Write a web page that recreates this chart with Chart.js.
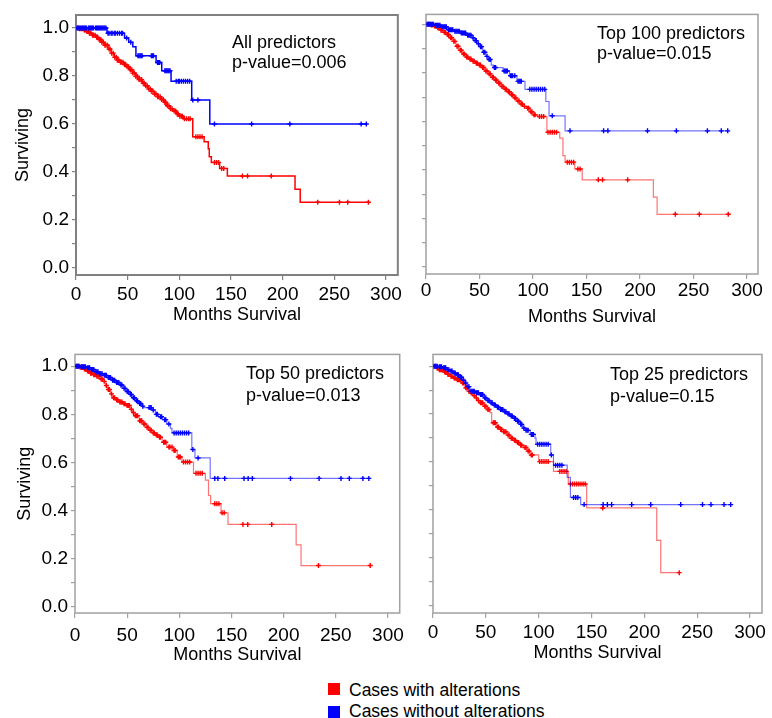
<!DOCTYPE html>
<html>
<head>
<meta charset="utf-8">
<script src="https://cdn.jsdelivr.net/npm/chart.js@4.4.0/dist/chart.umd.min.js"></script>
<style>
  body { margin: 0; background: #fff; font-family: "Liberation Sans", Arial, sans-serif; }
  #fig { position: relative; width: 772px; height: 718px; overflow: hidden; }
  .panel { position: absolute; }
  .panel canvas { display: block; }
  .note { position: absolute; font-size: 18px; color: #000; white-space: nowrap; }
  .key { position: absolute; left: 349px; font-size: 17.5px; line-height: 20px; color: #000; white-space: nowrap; }
  .sw { position: absolute; left: 328px; width: 12px; height: 12px; }
</style>
</head>
<body>
<div id="fig">
  <div class="panel" style="left:0;top:0"><canvas id="p1" width="405" height="335"></canvas></div>
  <div class="panel" style="left:405px;top:0"><canvas id="p2" width="367" height="335"></canvas></div>
  <div class="panel" style="left:0;top:340px"><canvas id="p3" width="410" height="335"></canvas></div>
  <div class="panel" style="left:410px;top:340px"><canvas id="p4" width="362" height="335"></canvas></div>

  <div class="note" style="left:232px;top:32px;line-height:20px">All predictors<br>p-value=0.006</div>
  <div class="note" style="left:597px;top:23px;line-height:20px">Top 100 predictors<br>p-value=0.015</div>
  <div class="note" style="left:246px;top:363px;line-height:21.7px">Top 50 predictors<br>p-value=0.013</div>
  <div class="note" style="left:610px;top:364px;line-height:21.6px">Top 25 predictors<br>p-value=0.15</div>

  <div class="sw" style="top:683px;background:#ff0000"></div>
  <div class="key" style="top:680px">Cases with alterations</div>
  <div class="sw" style="top:706px;background:#0000ff"></div>
  <div class="key" style="top:701px">Cases without alterations</div>
</div>

<script>
// --- All predictors ---
const p1RedTime = [3, 7, 10, 13, 16, 19, 22, 25, 28, 31, 34, 37, 40, 43, 46, 49, 52, 55, 58, 61, 64, 67, 70, 73, 76, 79, 82, 85, 88, 91, 94, 97, 100, 104, 113, 124, 128, 129, 131, 139, 146.5, 212, 217];
const p1RedSurv = [0.997, 0.992, 0.985, 0.978, 0.970, 0.961, 0.952, 0.940, 0.928, 0.912, 0.895, 0.878, 0.866, 0.857, 0.848, 0.838, 0.826, 0.812, 0.798, 0.785, 0.771, 0.759, 0.746, 0.736, 0.725, 0.714, 0.702, 0.690, 0.676, 0.664, 0.654, 0.642, 0.632, 0.622, 0.547, 0.526, 0.497, 0.464, 0.440, 0.415, 0.383, 0.328, 0.274];
const p1RedCens = [2, 3.5, 5, 6.5, 8, 9, 10.5, 12, 13, 14.5, 16, 17, 18.5, 20, 21, 22.5, 24, 25, 26.5, 28, 29, 30.5, 32, 33, 34.5, 36, 37.5, 39, 40, 41.5, 43, 44, 45.5, 47, 48, 49.5, 51, 52.5, 54, 55, 56.5, 58, 59.5, 61, 62, 63.5, 65, 66, 67.5, 69, 70.5, 72, 73, 74.5, 76, 77.5, 79, 80, 81.5, 83, 84.5, 86, 87, 88.5, 90, 91.5, 93, 95, 96.5, 98, 99, 100.5, 102, 103, 105, 107, 109, 110.5, 116, 118, 120, 122, 134, 136, 138, 141, 143, 161, 166, 189, 234, 255, 263, 283];
const p1BlueTime = [30, 47, 51, 55, 58, 77.5, 83, 92, 112, 129.5];
const p1BlueSurv = [0.978, 0.958, 0.940, 0.922, 0.884, 0.856, 0.822, 0.778, 0.700, 0.600];
const p1BlueCens = [1, 2, 3, 4, 5, 6, 7, 8, 9, 10, 12, 13, 14, 15, 16, 17, 19, 20, 21, 22, 23, 24, 25, 26, 27, 28, 29, 31, 32, 34, 35, 37, 38, 40, 42, 44, 45, 49, 53, 60, 61, 62, 63, 64, 73, 74, 75, 79, 80, 81, 86, 87, 88, 89, 90, 91, 97, 99, 100, 102, 104, 106, 108, 110, 113, 118, 134, 170, 207, 276, 281];

// --- Top 100 predictors ---
const p2RedTime = [4, 7, 10, 13, 16, 19, 22, 25, 28, 31, 34, 37, 40, 43, 46, 49, 52, 55, 58, 61, 64, 67, 70, 73, 76, 79, 82, 85, 88, 91, 94, 97, 100, 104, 113, 125, 128, 130, 139, 146, 212.5, 216];
const p2RedSurv = [0.997, 0.993, 0.986, 0.976, 0.967, 0.958, 0.945, 0.930, 0.910, 0.893, 0.878, 0.865, 0.857, 0.848, 0.840, 0.832, 0.822, 0.808, 0.796, 0.782, 0.770, 0.757, 0.744, 0.733, 0.722, 0.710, 0.697, 0.684, 0.672, 0.662, 0.654, 0.640, 0.627, 0.620, 0.555, 0.531, 0.459, 0.432, 0.404, 0.359, 0.288, 0.217];
const p2RedCens = [2, 3, 5, 6, 8, 9, 11, 12, 14, 15, 17, 18, 20, 21, 23, 24, 26, 27, 29, 30, 32, 33, 35, 36, 38, 39, 41, 42, 44, 45, 47, 48, 50, 51, 53, 54, 56, 57, 59, 60, 62, 63, 65, 66, 68, 69, 71, 72, 74, 75, 77, 78, 80, 81, 83, 84, 86, 87, 89, 90, 92, 95, 96, 98, 99, 101, 102, 106, 108, 110, 114, 116, 118, 120, 122, 132, 134, 136, 138, 142, 144, 161, 165, 188.5, 233, 255.5, 282.5];
const p2BlueTime = [8, 14, 20, 26, 32, 38, 43, 45, 48, 50, 53, 56, 58, 61, 63, 72, 78, 85, 92.5, 112, 115, 130];
const p2BlueSurv = [0.996, 0.990, 0.978, 0.972, 0.964, 0.955, 0.945, 0.933, 0.920, 0.908, 0.885, 0.868, 0.855, 0.832, 0.822, 0.808, 0.788, 0.765, 0.732, 0.682, 0.623, 0.561];
const p2BlueCens = [1, 2, 3, 4, 5, 6, 7, 9, 10, 11, 12, 13, 15, 16, 17, 18, 19, 21, 22, 23, 24, 25, 27, 28, 29, 30, 31, 33, 34, 35, 36, 37, 39, 40, 41, 42, 44, 46, 47, 49, 51, 52, 54, 55, 57, 59, 60, 64, 65, 73, 74, 75, 76, 79, 80, 81, 83, 86, 87, 88, 89, 97, 99, 101, 103, 105, 107, 109, 111, 118, 134.6, 166, 170, 207, 234, 263, 276, 282];

// --- Top 50 predictors ---
const p3RedTime = [4, 8, 11, 14, 17, 20.5, 24, 27, 29.5, 31.5, 34, 36, 39, 42.6, 46, 49, 53.6, 55, 57, 61.5, 65, 68, 71, 74, 77, 80.4, 83.6, 88, 94.6, 98, 102.5, 113.6, 125, 128, 130, 140, 146.7, 212, 216.7];
const p3RedSurv = [0.996, 0.988, 0.980, 0.971, 0.965, 0.958, 0.947, 0.937, 0.920, 0.903, 0.885, 0.869, 0.860, 0.851, 0.844, 0.837, 0.821, 0.808, 0.794, 0.773, 0.760, 0.746, 0.734, 0.723, 0.714, 0.705, 0.684, 0.664, 0.650, 0.623, 0.602, 0.555, 0.527, 0.463, 0.429, 0.391, 0.343, 0.258, 0.172];
const p3RedCens = [2, 3, 5, 6, 7, 9, 10, 12, 13, 15, 16, 18, 19, 21, 22, 23, 25, 26, 28, 30, 32, 33, 35, 37, 38, 40, 41, 43, 44, 45, 47, 48, 50, 51, 52, 54, 56, 58, 59, 60, 62, 63, 64, 66, 67, 69, 70, 72, 73, 75, 76, 78, 79, 81, 82, 85, 86, 87, 90, 91, 93, 95, 96, 99, 100, 101, 104, 106, 108, 110, 116, 118, 120, 122, 134, 136, 138, 141, 143, 161, 165.6, 188.6, 233.4, 283];
const p3BlueTime = [5, 11, 15, 19, 23, 27, 31, 35, 39, 43, 46, 49, 52, 55, 58, 61, 64, 66, 74, 77, 80, 84, 88, 91.5, 93, 112, 115, 129.6];
const p3BlueSurv = [0.998, 0.994, 0.986, 0.977, 0.969, 0.962, 0.953, 0.942, 0.932, 0.922, 0.908, 0.895, 0.883, 0.869, 0.856, 0.845, 0.834, 0.828, 0.818, 0.800, 0.790, 0.778, 0.760, 0.742, 0.723, 0.654, 0.619, 0.534];
const p3BlueCens = [1, 2, 3, 4, 6, 7, 8, 9, 10, 12, 13, 14, 16, 17, 18, 20, 21, 22, 24, 25, 26, 28, 29, 30, 32, 33, 34, 36, 37, 38, 40, 41, 42, 44, 45, 47, 48, 50, 51, 53, 54, 56, 57, 59, 60, 62, 63, 65, 71, 72, 73, 75, 78, 79, 82, 83, 86, 87, 90, 95, 97, 99, 101, 103, 105, 107, 109, 113, 118, 134, 137, 143.5, 162, 166, 170, 206.6, 234, 255, 263, 276, 281.7];

// --- Top 25 predictors ---
const p4RedTime = [3, 5, 10, 13, 16, 19, 22.4, 27, 30, 33, 35, 38, 40, 42, 44.5, 48, 51, 54, 55.5, 60, 63, 66.5, 70, 73, 76, 79, 82, 85.5, 89, 92, 100, 114, 128, 145.4, 211.7, 215.5];
const p4RedSurv = [0.993, 0.986, 0.976, 0.967, 0.958, 0.951, 0.944, 0.930, 0.910, 0.896, 0.889, 0.877, 0.868, 0.857, 0.847, 0.833, 0.819, 0.806, 0.764, 0.746, 0.736, 0.726, 0.712, 0.699, 0.690, 0.681, 0.670, 0.660, 0.645, 0.629, 0.601, 0.560, 0.507, 0.407, 0.271, 0.136];
const p4RedCens = [2, 4, 6, 7, 8, 9, 11, 12, 14, 15, 17, 18, 20, 21, 23, 24, 25, 26, 28, 29, 31, 32, 34, 36, 37, 39, 41, 43, 45, 46, 47, 49, 50, 52, 53, 57, 58, 59, 61, 62, 64, 65, 67, 68, 69, 71, 72, 74, 75, 77, 78, 80, 81, 83, 84, 87, 88, 90, 91, 93, 94, 101, 103, 105, 107, 109, 120, 122, 124, 126, 130, 132, 134, 136, 138, 140, 142, 144, 160.6, 233];
const p4BlueTime = [5, 9, 13, 16, 19, 22, 25.5, 28, 30, 32, 35, 40, 44.5, 48, 51, 54, 57, 60, 63.4, 67, 70, 73, 76, 79, 82, 85, 87, 92, 96.5, 97.5, 111.4, 114, 127, 130, 139.7];
const p4BlueSurv = [0.998, 0.994, 0.986, 0.980, 0.972, 0.965, 0.954, 0.942, 0.930, 0.915, 0.896, 0.889, 0.882, 0.868, 0.857, 0.847, 0.838, 0.829, 0.819, 0.810, 0.801, 0.792, 0.782, 0.770, 0.757, 0.742, 0.732, 0.715, 0.699, 0.674, 0.629, 0.586, 0.535, 0.451, 0.421];
const p4BlueCens = [1, 2, 3, 4, 6, 7, 8, 10, 11, 12, 14, 15, 17, 18, 20, 21, 23, 24, 26, 27, 29, 31, 33, 34, 36, 37, 38, 39, 41, 42, 43, 45, 46, 47, 49, 50, 52, 53, 55, 56, 58, 59, 61, 62, 64, 65, 66, 68, 69, 71, 72, 74, 75, 77, 78, 80, 81, 83, 84, 86, 88, 89, 90, 93, 94, 95, 99, 101, 103, 105, 107, 109, 112, 116, 118, 120, 122, 133, 135, 137, 143, 161, 165, 169, 188, 206, 234.4, 255, 263, 275.4, 281.7];

const FONT = '"Liberation Sans", Arial, sans-serif';
Chart.defaults.font.family = FONT;
Chart.defaults.color = '#000';

// survival value of a step curve at time t
const survAt = (times, surv, t) => {
  let s = 1;
  for (let i = 0; i < times.length; i++) {
    if (times[i] <= t) s = surv[i];
  }
  return s;
};

const curvePoints = (times, surv, cens) => {
  const pts = [{ x: 0, y: 1 }];
  times.forEach((t, i) => pts.push({ x: t, y: surv[i] }));
  pts.push({ x: cens[cens.length - 1], y: surv[surv.length - 1] });
  return pts;
};

const censorPoints = (times, surv, cens) => cens.map(t => ({ x: t, y: survAt(times, surv, t) }));

// plot frame drawn all round the chart area
const boxPlugin = {
  id: 'box',
  beforeDatasetsDraw(chart, args, opts) {
    const { ctx, chartArea: a } = chart;
    ctx.save();
    ctx.strokeStyle = opts.color;
    ctx.lineWidth = opts.width;
    ctx.strokeRect(a.left, a.top, a.right - a.left, a.bottom - a.top);
    ctx.restore();
  }
};

const renderPanel = (id, red, blue, p) => {
  const lineSet = (c, col) => ({
    data: curvePoints(c[0], c[1], c[2]),
    showLine: true,
    stepped: true,
    borderColor: col,
    borderWidth: p.lineWidth,
    pointRadius: 0,
  });
  const markSet = (c, col) => ({
    data: censorPoints(c[0], c[1], c[2]),
    showLine: false,
    pointStyle: 'cross',
    pointRadius: 2.5,
    pointBorderColor: col,
    pointBackgroundColor: col,
    pointBorderWidth: 1.4,
  });
  new Chart(document.getElementById(id), {
    type: 'scatter',
    data: {
      datasets: [
        markSet(blue, '#0000ff'),
        lineSet(blue, p.blueLine),
        markSet(red, '#ff0000'),
        lineSet(red, p.redLine),
      ],
    },
    plugins: [boxPlugin],
    options: {
      responsive: false,
      animation: false,
      layout: { padding: { top: p.top, right: p.right, left: 0, bottom: 0 } },
      plugins: {
        legend: { display: false },
        tooltip: { enabled: false },
        box: { color: p.frame, width: p.frameWidth },
      },
      scales: {
        x: {
          type: 'linear',
          min: 0,
          max: p.xMax,
          afterFit: s => { s.height = p.xHeight; },
          border: { display: false },
          grid: { drawOnChartArea: false, tickLength: 5, color: p.frame, lineWidth: 1.2 },
          ticks: { stepSize: 50, includeBounds: false, autoSkip: false, maxRotation: 0, padding: p.xPad, font: { size: 19 } },
          title: { display: true, text: 'Months Survival', font: { size: 18 }, padding: { top: 0, bottom: p.xTitlePad } },
        },
        y: {
          min: p.yMin,
          max: p.yMax,
          afterFit: s => { s.width = p.yWidth; },
          border: { display: false },
          grid: { drawOnChartArea: false, tickLength: 4, color: p.frame, lineWidth: 1.2 },
          ticks: {
            stepSize: 0.1, includeBounds: false, autoSkip: false, padding: 3, font: { size: 19 },
            callback: v => (p.yLabels && Math.round(v * 10) % 2 === 0) ? v.toFixed(1) : '',
          },
          title: { display: p.yLabels, text: 'Surviving', font: { size: 18 }, padding: { top: p.yTitlePad, bottom: 0 } },
        },
      },
    },
  });
};

renderPanel('p1', [p1RedTime, p1RedSurv, p1RedCens], [p1BlueTime, p1BlueSurv, p1BlueCens], {
  top: 15, right: 5, xHeight: 60, yWidth: 76, xMax: 311.5, yMin: -0.029, yMax: 1.054,
  xPad: 3, xTitlePad: 9, yTitlePad: 12, yLabels: true,
  lineWidth: 1.5, redLine: '#ff0000', blueLine: '#0000ff', frame: '#808080', frameWidth: 2,
});
renderPanel('p2', [p2RedTime, p2RedSurv, p2RedCens], [p2BlueTime, p2BlueSurv, p2BlueCens], {
  top: 13, right: 14, xHeight: 61, yWidth: 21, xMax: 310.3, yMin: -0.029, yMax: 1.041,
  xPad: 0, xTitlePad: 7.5, yTitlePad: 0, yLabels: false,
  lineWidth: 1.2, redLine: 'rgba(255,0,0,0.55)', blueLine: 'rgba(0,0,255,0.55)', frame: '#a0a0a0', frameWidth: 1.5,
});
renderPanel('p3', [p3RedTime, p3RedSurv, p3RedCens], [p3BlueTime, p3BlueSurv, p3BlueCens], {
  top: 11, right: 6, xHeight: 62, yWidth: 75, xMax: 311.3, yMin: -0.025, yMax: 1.049,
  xPad: 6, xTitlePad: 9, yTitlePad: 14, yLabels: true,
  lineWidth: 1.2, redLine: 'rgba(255,0,0,0.55)', blueLine: 'rgba(0,0,255,0.55)', frame: '#a0a0a0', frameWidth: 1.5,
});
renderPanel('p4', [p4RedTime, p4RedSurv, p4RedCens], [p4BlueTime, p4BlueSurv, p4BlueCens], {
  top: 13, right: 10, xHeight: 62, yWidth: 23, xMax: 311.3, yMin: -0.033, yMax: 1.05,
  xPad: 3, xTitlePad: 11, yTitlePad: 0, yLabels: false,
  lineWidth: 1.2, redLine: 'rgba(255,0,0,0.55)', blueLine: 'rgba(0,0,255,0.55)', frame: '#a0a0a0', frameWidth: 1.5,
});
</script>
</body>
</html>
